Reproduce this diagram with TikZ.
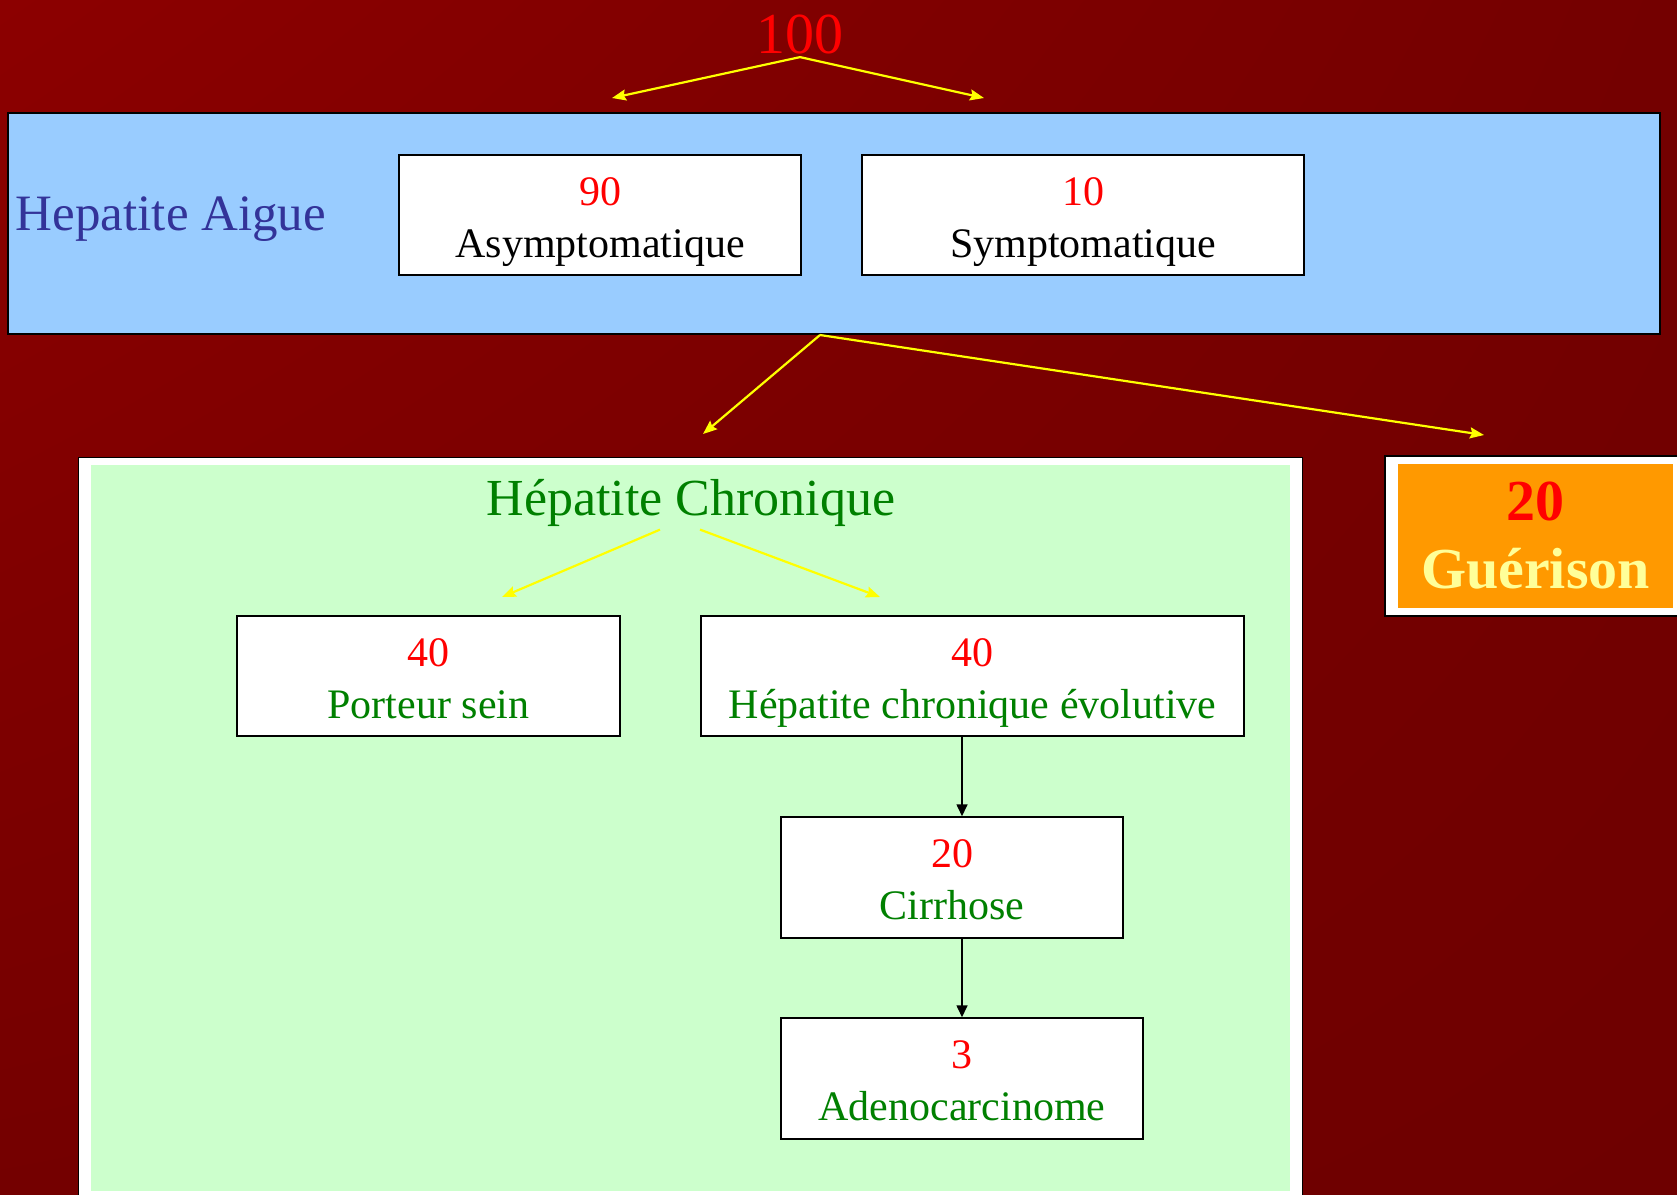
\documentclass[tikz,border=0pt]{standalone}
\usepackage{fontspec}
\setmainfont{Liberation Serif}
\usetikzlibrary{arrows.meta,shadings}

\definecolor{bgTop}{RGB}{140,0,0}
\definecolor{bgMid}{RGB}{116,0,0}
\definecolor{bgBottom}{RGB}{110,0,0}
\definecolor{aigueFill}{RGB}{153,204,255}
\definecolor{aigueText}{RGB}{51,51,153}
\definecolor{chronFill}{RGB}{204,255,204}
\definecolor{chronText}{RGB}{0,128,0}
\definecolor{guerFill}{RGB}{255,153,0}
\definecolor{guerText}{RGB}{255,255,153}
\definecolor{numRed}{RGB}{255,0,0}
\definecolor{arrowYellow}{RGB}{255,255,0}

\tikzset{
  numbox/.style={draw=black, line width=1.5pt, fill=white, inner sep=0pt},
  boxtext/.style={anchor=base, inner sep=0pt, font=\fontsize{42}{42}\selectfont},
  yarrow/.style={draw=arrowYellow, line width=2.2pt,
    -{Stealth[length=14pt, width=11pt, inset=2pt]}},
  karrow/.style={draw=black, line width=1.6pt,
    -{Stealth[length=12pt, width=11pt, inset=0pt]}}
}

% number and label inside a box: box name, number, label, label colour
\newcommand{\boxlines}[4]{%
  \node [boxtext, text=numRed] (#1Num) at ([yshift=-51]#1.north) {#2};
  \node [boxtext, text=#4] (#1Lbl) at ([yshift=-103]#1.north) {#3};}

\begin{document}
\begin{tikzpicture}[x=1pt, y=-1pt]
    \useasboundingbox (0,0) rectangle (1677,1194);
    \clip (0,0) rectangle (1677,1194);

    % Background
    \shade [upper left=bgTop, upper right=bgMid, lower left=bgMid,
            lower right=bgBottom] (0,0) rectangle (1677,1194);

    % Total
    \node [anchor=base, text=numRed, font=\fontsize{58}{58}\selectfont]
          (total) at (800,53) {100};

    % Hepatite aigue
    \node [draw=black, line width=2pt, fill=aigueFill, inner sep=0pt,
           minimum width=1652, minimum height=221] (aigue) at (834,223.5) {};
    \node [anchor=base, text=aigueText, font=\fontsize{51}{51}\selectfont]
          (aigueLbl) at (171,230) {Hepatite Aigue};
    \node [numbox, minimum width=402, minimum height=120] (asym) at (600,215) {};
    \boxlines{asym}{90}{Asymptomatique}{black}
    \node [numbox, minimum width=442, minimum height=120] (sym) at (1083,215) {};
    \boxlines{sym}{10}{Symptomatique}{black}

    % Edges
    \coordinate (asymTip) at (612,98);
    \coordinate (symTip) at (984,98);
    \draw [yarrow] (total.south) -- (asymTip);
    \draw [yarrow] (total.south) -- (symTip);

    % Hepatite chronique
    \node [draw=black, line width=1pt, fill=white, inner sep=0pt,
           minimum width=1224, minimum height=760] (chronOuter) at (690,837) {};
    \node [fill=chronFill, inner sep=0pt,
           minimum width=1199, minimum height=726] (chron) at (690.5,828) {};
    \node [anchor=base, text=chronText, font=\fontsize{52}{52}\selectfont]
          (chronLbl) at (691,515) {Hépatite Chronique};
    \node [numbox, minimum width=383, minimum height=120] (porteur) at (428.5,676) {};
    \boxlines{porteur}{40}{Porteur sein}{chronText}
    \node [numbox, minimum width=543, minimum height=120] (hce) at (972.5,676) {};
    \boxlines{hce}{40}{Hépatite chronique évolutive}{chronText}
    \node [numbox, minimum width=342, minimum height=121] (cirr) at (952,877.5) {};
    \boxlines{cirr}{20}{Cirrhose}{chronText}
    \node [numbox, minimum width=362, minimum height=121] (adeno) at (962,1078.5) {};
    \boxlines{adeno}{3}{Adenocarcinome}{chronText}

    % Guerison
    \node [draw=black, line width=1.5pt, fill=white, inner sep=0pt,
           minimum width=315, minimum height=160] (guerOuter) at (1542.5,536) {};
    \node [fill=guerFill, inner sep=0pt, align=center, text=guerText,
           minimum width=275, minimum height=144,
           font=\fontsize{58}{68}\selectfont\bfseries] (guer) at (1535.5,536)
          {\textcolor{numRed}{20}\\Guérison};

    % Edges
    \coordinate (split) at (820,335);
    \coordinate (chronTip) at (703,434);
    \coordinate (guerTip) at (1484,435);
    \draw [yarrow] (split) -- (chronTip);
    \draw [yarrow] (split) -- (guerTip);

    \coordinate (porteurTip) at (502,597);
    \coordinate (hceTip) at (880,597);
    \draw [yarrow] ([xshift=-31]chronLbl.south) -- (porteurTip);
    \draw [yarrow] ([xshift=9]chronLbl.south) -- (hceTip);

    \draw [karrow] (hce.south -| adeno.north) -- (cirr.north -| adeno.north);
    \draw [karrow] (cirr.south -| adeno.north) -- (adeno.north);
\end{tikzpicture}
\end{document}
